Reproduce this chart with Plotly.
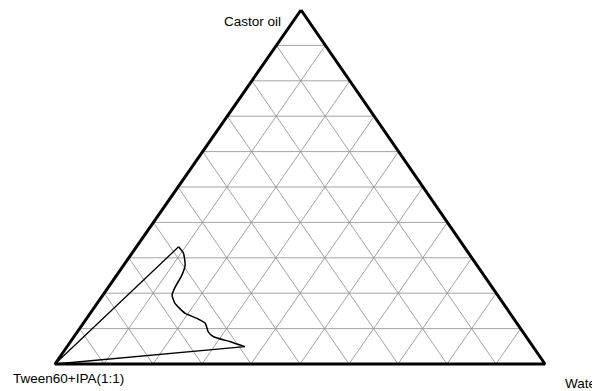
import plotly.graph_objects as go

# pseudo-ternary phase diagram: % castor oil, % water, rest is Smix (Tween60+IPA 1:1)
oil = [0, 33.1, 31.3, 28.0, 25.1, 21.8, 19.5, 17.1, 14.3, 12.9, 11.5, 9.1, 7.7, 6.3, 4.9, 0]
water = [0, 8.6, 10.5, 12.5, 13.3, 13.6, 14.1, 15.9, 19.4, 22.5, 24.9, 26.7, 28.5, 32.6, 36.3, 0]
smix = [100 - o - w for o, w in zip(oil, water)]

corner_labels = ["Castor oil", "Tween60+IPA(1:1)", "Water"]
n_div = 10

# triangle corners on the page (pixels)
TOP = (301, 10)
LEFT = (55, 364)
RIGHT = (545, 364)
PAGE_MARGIN = 8  # default body margin of the html page


def to_xy(a, b, c):
    s = a + b + c
    a, b, c = a / s, b / s, c / s
    x = a * TOP[0] + b * LEFT[0] + c * RIGHT[0]
    y = a * TOP[1] + b * LEFT[1] + c * RIGHT[1]
    return x, y


# grid lines
gx, gy = [], []
for k in range(1, n_div):
    f = k / n_div
    for p, q in [((f, 1 - f, 0), (f, 0, 1 - f)),
                 ((1 - f, f, 0), (0, f, 1 - f)),
                 ((1 - f, 0, f), (0, 1 - f, f))]:
        x1, y1 = to_xy(*p)
        x2, y2 = to_xy(*q)
        gx += [x1, x2, None]
        gy += [y1, y2, None]

fig = go.Figure()
fig.add_trace(go.Scatter(x=gx, y=gy, mode='lines',
                         line=dict(color='#8c8c8c', width=0.8), hoverinfo='skip'))

bx, by = zip(*[to_xy(1, 0, 0), to_xy(0, 1, 0), to_xy(0, 0, 1), to_xy(1, 0, 0)])
fig.add_trace(go.Scatter(x=bx, y=by, mode='lines',
                         line=dict(color='black', width=3)))

pts = [to_xy(o, s, w) for o, s, w in zip(oil, smix, water)]
# wavy boundary of the microemulsion region
cx, cy = zip(*pts[1:-1])
fig.add_trace(go.Scatter(x=cx, y=cy, mode='lines',
                         line=dict(color='black', width=1.5, shape='spline', smoothing=0.5)))
# straight chords back to the Smix corner
sx, sy = zip(*[pts[-2], pts[0], pts[1]])
fig.add_trace(go.Scatter(x=sx, y=sy, mode='lines',
                         line=dict(color='black', width=1.3)))

font = dict(family='Liberation Sans, Arial', size=13.5, color='black')
fig.add_annotation(x=283, y=21, text=corner_labels[0], showarrow=False,
                   xanchor='right', font=font)
fig.add_annotation(x=11, y=378, text=corner_labels[1], showarrow=False,
                   xanchor='left', font=font)
fig.add_annotation(x=563, y=383, text=corner_labels[2], showarrow=False,
                   xanchor='left', font=font)

m = PAGE_MARGIN
fig.update_layout(
    width=600, height=391,
    margin=dict(l=0, r=0, t=0, b=0),
    showlegend=False,
    paper_bgcolor='white',
    plot_bgcolor='white',
    xaxis=dict(range=[m, 600 + m], visible=False, fixedrange=True),
    yaxis=dict(range=[391 + m, m], visible=False, fixedrange=True),
)

fig.write_html("out.html")
